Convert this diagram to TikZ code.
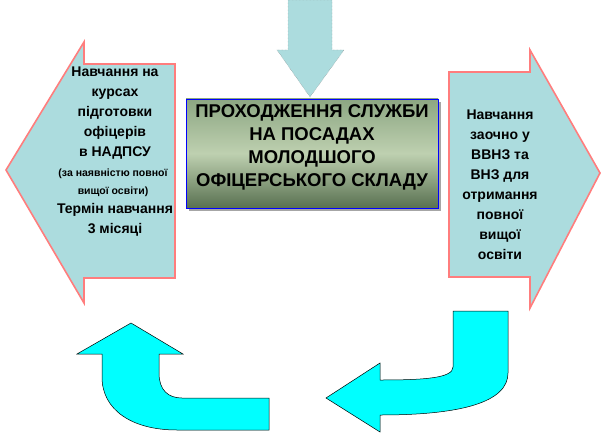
\documentclass[tikz,border=0pt]{standalone}
\usepackage{fontspec}
\setmainfont{Liberation Sans}
\usetikzlibrary{positioning,calc,shadows}

\definecolor{arrowfill}{RGB}{172,220,222}
\definecolor{arrowedge}{RGB}{255,125,125}
\definecolor{turncyan}{RGB}{0,255,255}
\definecolor{boxtop}{RGB}{140,166,130}
\definecolor{boxmid}{RGB}{190,208,176}
\definecolor{boxbottom}{RGB}{88,112,80}

\begin{document}
\begin{tikzpicture}[
            x=1pt, y=-1pt,
            big arrow/.style={draw=arrowedge,line width=1.6pt,fill=arrowfill,line join=miter},
            top arrow/.style={draw=gray,densely dotted,thin,fill=arrowfill},
            turn arrow/.style={draw=black,line width=0.5pt,fill=turncyan},
            title box/.style={draw=blue,line width=0.9pt,minimum width=252pt,minimum height=109pt,
                top color=boxtop,bottom color=boxbottom,middle color=boxmid,
                drop shadow={shadow xshift=3pt,shadow yshift=-3pt,fill=gray!70,opacity=1}},
            title text/.style={align=center,inner sep=0pt,font=\bfseries\fontsize{18.5}{23}\selectfont},
            side text/.style={align=center,inner sep=0pt,font=\bfseries\fontsize{14}{20}\selectfont},
            note text/.style={align=center,inner sep=0pt,font=\bfseries\fontsize{10.5}{18}\selectfont},
        ]
            \useasboundingbox (0,0) rectangle (604,433);

            % shapes
            \draw[big arrow] (6,170) -- (84,42) -- (84,64) -- (175,64) -- (175,278)
                -- (84,278) -- (84,303) -- cycle;
            \draw[big arrow] (449,72) -- (530,72) -- (530,50) -- (600,173) -- (530,308)
                -- (530,277) -- (449,277) -- cycle;
            \draw[top arrow] (288,0) -- (332,0) -- (332,50) -- (344,50) -- (310,97)
                -- (277,50) -- (288,50) -- cycle;
            \draw[turn arrow] (131,323) -- (183,354) -- (159,354) -- (159,373)
                .. controls (159,390) and (168,398) .. (182,398) -- (269,398) -- (269,430)
                -- (177,430) .. controls (132,430) and (102,410) .. (102,377)
                -- (102,354) -- (77,354) -- cycle;
            \draw[turn arrow] (453,311) -- (508,311) -- (508,373)
                .. controls (508,402) and (462,415) .. (380,415) -- (380,432) -- (326,398)
                -- (380,363) -- (380,380) .. controls (425,380) and (453,378) .. (453,367) -- cycle;

            % texts
            \node[title box] (service) at (312,153.5) {};
            \node[title text] (service text) at (312,147.5)
                {ПРОХОДЖЕННЯ СЛУЖБИ\\НА ПОСАДАХ\\МОЛОДШОГО\\ОФІЦЕРСЬКОГО СКЛАДУ};

            \node[side text] (courses) at (115,113) {Навчання на\\курсах\\підготовки\\офіцерів\\в НАДПСУ};
            \node[note text] (condition) at (113,183) {(за наявністю  повної\\вищої освіти)};
            \node[side text] (term) at (115,220) {Термін навчання\\3 місяці};

            \node[side text] (extramural) at (500,185)
                {Навчання\\заочно у\\ВВНЗ та\\ВНЗ для\\отримання\\повної\\вищої\\освіти};
        \end{tikzpicture}
\end{document}
